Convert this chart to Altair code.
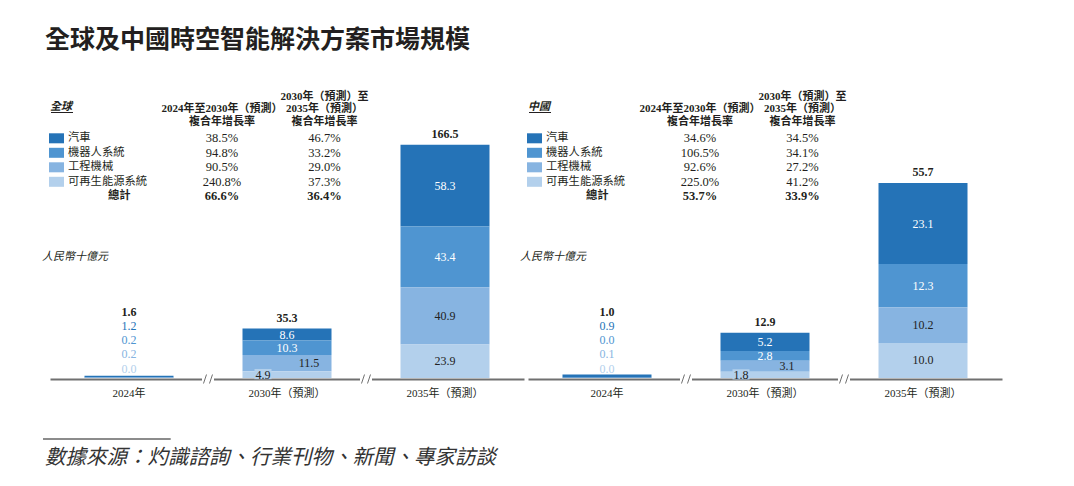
import altair as alt
import pandas as pd

# ---------------- data ----------------
years = ["2024年", "2030年（預測）", "2035年（預測）"]
series = ["汽車", "機器人系統", "工程機械", "可再生能源系統"]
series_colors = ["#2573b7", "#4f95d1", "#87b4e1", "#b3d0ec"]

global_car = [1.2, 8.6, 58.3]
global_robot = [0.2, 10.3, 43.4]
global_machinery = [0.2, 11.5, 40.9]
global_renewable = [0.0, 4.9, 23.9]
global_total = [1.6, 35.3, 166.5]

china_car = [0.9, 5.2, 23.1]
china_robot = [0.0, 2.8, 12.3]
china_machinery = [0.1, 3.1, 10.2]
china_renewable = [0.0, 1.8, 10.0]
china_total = [1.0, 12.9, 55.7]

table_rows = series + ["總計"]
global_cagr_2024_2030 = ["38.5%", "94.8%", "90.5%", "240.8%", "66.6%"]
global_cagr_2030_2035 = ["46.7%", "33.2%", "29.0%", "37.3%", "36.4%"]
china_cagr_2024_2030 = ["34.6%", "106.5%", "92.6%", "225.0%", "53.7%"]
china_cagr_2030_2035 = ["34.5%", "34.1%", "27.2%", "41.2%", "33.9%"]

header_1 = ["2024年至2030年（預測）", "複合年增長率"]
header_2 = ["2030年（預測）至", "2035年（預測）", "複合年增長率"]
unit_label = "人民幣十億元"
title_text = "全球及中國時空智能解決方案市場規模"
source_text = "數據來源：灼識諮詢、行業刊物、新聞、專家訪談"

# ---------------- styling ----------------
SERIF = "Liberation Serif, Noto Sans CJK TC"
SANS = "Noto Sans CJK TC"
TXT = "#231f20"
AXIS_GREY = "#707070"
PW, PH = 474, 290


def text_layer(label, x, y, **kw):
    d = pd.DataFrame({"label": [label]})
    return alt.Chart(d).mark_text(**kw).encode(
        x=alt.value(x), y=alt.value(y), text="label:N"
    )


def panel(name, values_by_series, totals, cagr1, cagr2, ymax, with_source=False):
    rows = []
    for i, (s, vals) in enumerate(zip(series, values_by_series)):
        for yr, v in zip(years, vals):
            rows.append({"year": yr, "series": s, "value": v, "order": 3 - i})
    df = pd.DataFrame(rows)
    tot = pd.DataFrame({"year": years, "total": totals})

    xscale = alt.Scale(domain=years, paddingInner=0.4367, paddingOuter=0.2183)
    xaxis = alt.Axis(
        title=None, labelAngle=0, ticks=False, labelPadding=8, offset=1,
        labelFont=SERIF, labelFontSize=11, labelColor=TXT,
        domainColor=AXIS_GREY, domainWidth=2,
    )
    X = alt.X("year:N", sort=years, scale=xscale, axis=xaxis)
    yscale = alt.Scale(domain=[0, ymax], nice=False, zero=True)
    Y0 = alt.YDatum(0, scale=yscale, axis=None)
    color = alt.Color("series:N", scale=alt.Scale(domain=series, range=series_colors), legend=None)

    base = alt.Chart(df)
    bars = base.mark_bar().encode(
        x=X,
        y=alt.Y("value:Q", stack="zero", scale=yscale, axis=None),
        color=color,
        order=alt.Order("order:Q", sort="ascending"),
    )

    stacked = base.transform_stack(
        stack="value", groupby=["year"], as_=["v0", "v1"],
        sort=[alt.SortField(field="order", order="ascending")],
    ).transform_calculate(mid="(datum.v0 + datum.v1) / 2")

    seg_color = alt.condition(
        alt.FieldOneOfPredicate(field="series", oneOf=series[:2]),
        alt.value("white"), alt.value("#222222"),
    )

    def seg(expr, dx=0):
        return stacked.transform_filter(expr).mark_text(
            font=SERIF, fontSize=12, dx=dx, baseline="middle"
        ).encode(
            x=X, y=alt.Y("mid:Q", scale=yscale, axis=None),
            text=alt.Text("value:Q", format=".1f"), color=seg_color,
        )

    f_ren = (alt.datum.year == years[1]) & (alt.datum.series == series[3])
    seg_main = seg((alt.datum.year == years[2]) | ((alt.datum.year == years[1]) &
                   ((alt.datum.series == series[0]) | (alt.datum.series == series[1]))))
    seg_mach = seg((alt.datum.year == years[1]) & (alt.datum.series == series[2]), dx=22)
    # small light box behind the thin bottom-segment label
    ren_box = stacked.transform_filter(f_ren).mark_point(
        shape="M-1,-0.6L1,-0.6L1,0.6L-1,0.6Z", filled=True, opacity=1, size=289,
        xOffset=-24, yOffset=-0.5,
    ).encode(x=X, y=alt.Y("mid:Q", scale=yscale, axis=None), color=color)
    seg_ren = seg(f_ren, dx=-24)

    small = []
    for i, s in enumerate(series):
        small.append(
            base.transform_filter((alt.datum.year == years[0]) & (alt.datum.series == s))
            .mark_text(font=SERIF, fontSize=12, baseline="middle", dy=-(9.5 + 14.1 * (3 - i)))
            .encode(x=X, y=Y0, text=alt.Text("value:Q", format=".1f"), color=color)
        )

    tot_first = alt.Chart(tot).transform_filter(alt.datum.year == years[0]).mark_text(
        font=SERIF, fontSize=12, fontWeight="bold", color=TXT, baseline="middle",
        dy=-(9.5 + 14.1 * 4),
    ).encode(x=X, y=Y0, text=alt.Text("total:Q", format=".1f"))
    tot_rest = alt.Chart(tot).transform_filter(alt.datum.year != years[0]).mark_text(
        font=SERIF, fontSize=12, fontWeight="bold", color=TXT, baseline="middle", dy=-11,
    ).encode(x=X, y=alt.Y("total:Q", scale=yscale, axis=None), text=alt.Text("total:Q", format=".1f"))

    brk = pd.DataFrame({"year": years[1:]})
    Xb = alt.X("year:N", sort=years, scale=xscale, axis=xaxis, bandPosition=0)
    gap = alt.Chart(brk).mark_point(
        shape="M-1,-0.4L1,-0.4L1,0.4L-1,0.4Z", filled=True, color="white",
        opacity=1, size=144, xOffset=-34.5, yOffset=1,
    ).encode(x=Xb, y=Y0)
    slash = alt.Chart(brk).mark_point(
        shape="M-1,1L-0.33,-1M0.33,1L1,-1", filled=False, color=AXIS_GREY,
        strokeWidth=1, opacity=1, size=81, xOffset=-34.5, yOffset=1,
    ).encode(x=Xb, y=Y0)

    bar_group = alt.layer(bars, seg_main, seg_mach, ren_box, seg_ren, *small,
                          tot_first, tot_rest, gap, slash)

    # ---------- CAGR table ----------
    tdf = pd.DataFrame({"row": table_rows, "c1": cagr1, "c2": cagr2})
    rowY = alt.Y("row:N", sort=table_rows, axis=None,
                 scale=alt.Scale(type="point", domain=table_rows, range=[50.3, 108.3], padding=0))
    tchart = alt.Chart(tdf)
    is_series = alt.FieldOneOfPredicate(field="row", oneOf=series)
    is_total = alt.datum.row == table_rows[-1]

    squares = tchart.transform_filter(is_series).mark_point(
        shape="M-1,-0.667L1,-0.667L1,0.667L-1,0.667Z", filled=True, opacity=1, size=225,
    ).encode(
        x=alt.value(6.5), y=rowY,
        color=alt.Color("row:N", scale=alt.Scale(domain=series, range=series_colors), legend=None),
    )
    row_labels = tchart.transform_filter(is_series).mark_text(
        font=SANS, fontSize=11.3, align="left", baseline="middle", color=TXT
    ).encode(x=alt.value(18), y=rowY, text="row:N")
    total_label = tchart.transform_filter(is_total).mark_text(
        font=SANS, fontSize=11.3, fontWeight="bold", align="left", baseline="middle", color=TXT
    ).encode(x=alt.value(58), y=rowY, text="row:N")

    def col(field, x):
        normal = tchart.transform_filter(is_series).mark_text(
            font=SERIF, fontSize=12.5, baseline="middle", color=TXT
        ).encode(x=alt.value(x), y=rowY, text=f"{field}:N")
        bold = tchart.transform_filter(is_total).mark_text(
            font=SERIF, fontSize=12.5, fontWeight="bold", baseline="middle", color=TXT
        ).encode(x=alt.value(x), y=rowY, text=f"{field}:N")
        return [normal, bold]

    hdr_kw = dict(font=SERIF, fontSize=11, fontWeight="bold", baseline="middle", color=TXT)
    headers = [
        text_layer(header_1[0], 172, 21, **hdr_kw),
        text_layer(header_1[1], 172, 34.3, **hdr_kw),
        text_layer(header_2[0], 274.5, 8.7, **hdr_kw),
        text_layer(header_2[1], 274.5, 21, **hdr_kw),
        text_layer(header_2[2], 274.5, 34.3, **hdr_kw),
    ]
    region = text_layer(name, 0, 18.7, font=SANS, fontSize=11, fontWeight="bold",
                        fontStyle="italic", align="left", baseline="middle", color=TXT)
    underline = alt.Chart(pd.DataFrame({"label": [name]})).mark_rule(color=TXT, strokeWidth=1).encode(
        x=alt.value(1), x2=alt.value(23), y=alt.value(24.5)
    )
    unit = text_layer(unit_label, -8, 169, font=SANS, fontSize=11, fontStyle="italic",
                      align="left", baseline="middle", color=TXT)

    extra = []
    if with_source:
        extra.append(
            alt.Chart(pd.DataFrame({"label": [source_text]})).mark_rule(
                color="#8c8c8c", strokeWidth=2
            ).encode(x=alt.value(-7), x2=alt.value(120.7), y=alt.value(351))
        )
        extra.append(
            text_layer(source_text, -5, 369.7, font=SANS, fontSize=20.5, fontStyle="italic",
                       align="left", baseline="middle", color="#333333")
        )

    table_group = alt.layer(
        squares, row_labels, total_label, *col("c1", 172), *col("c2", 274.5),
        *headers, region, underline, unit, *extra,
    )

    return alt.layer(bar_group, table_group).resolve_scale(
        x="independent", y="independent"
    ).properties(width=PW, height=PH)


left = panel(
    "全球",
    [global_car, global_robot, global_machinery, global_renewable],
    global_total, global_cagr_2024_2030, global_cagr_2030_2035, 207, with_source=True,
)
right = panel(
    "中國",
    [china_car, china_robot, china_machinery, china_renewable],
    china_total, china_cagr_2024_2030, china_cagr_2030_2035, 82.7,
)

chart = alt.hconcat(left, right, spacing=4, bounds="flush").properties(
    title=alt.TitleParams(
        text=title_text, anchor="start", font=SANS, fontSize=25, fontWeight="bold",
        color=TXT, dx=-5, offset=15.5, baseline="alphabetic", frame="group",
    ),
    padding={"left": 34, "top": 19, "right": 5, "bottom": 5},
).configure_view(stroke=None)

chart.save("out.html", embed_options={"renderer": "svg", "actions": False})
